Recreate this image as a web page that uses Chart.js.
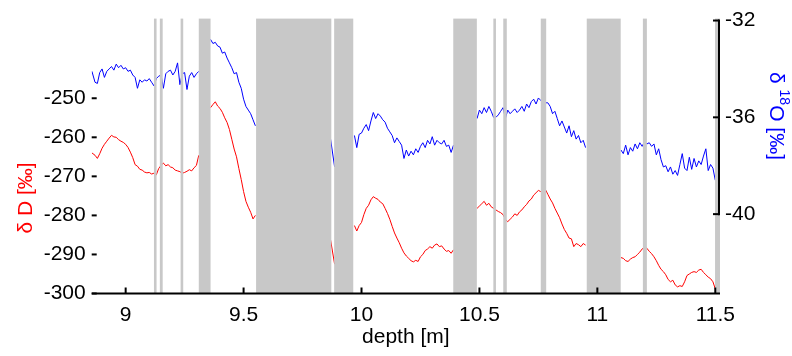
<!DOCTYPE html>
<html lang="en">
<head>
    <meta charset="UTF-8">
    <title>Isotope profile</title>
    <style>
        body {
            margin: 0;
            background: #fff;
        }
        canvas {
            display: block;
        }
    </style>
</head>
<body>
    <canvas id="isoChart" width="792" height="356"></canvas>

    <script src="https://cdn.jsdelivr.net/npm/chart.js"></script>
    <script>
        // depth in m, null rows break the line at core gaps
        const depth = [
            8.857, 8.87, 8.88, 8.89, 8.90, 8.91, 8.92, 8.93, 8.94, 8.95, 8.96, 8.97, 8.98, 8.99,
            9.00, 9.01, 9.02, 9.03, 9.04, 9.05, 9.06, 9.07, 9.08, 9.09, 9.10, 9.11, 9.12, 9.13,
            9.14, 9.15, 9.16, 9.17, 9.18, 9.19, 9.20, 9.21, 9.22, 9.23, 9.24, 9.25, 9.26, 9.27,
            9.28, 9.29, 9.30, 9.31,
            9.335,
            9.36, 9.37, 9.38, 9.39, 9.40, 9.41, 9.42, 9.43, 9.44, 9.45, 9.46, 9.47, 9.48, 9.49,
            9.50, 9.51, 9.52, 9.53, 9.54, 9.55,
            9.70,
            9.868, 9.886,
            9.93,
            9.97, 9.98, 9.99, 10.00, 10.01, 10.02, 10.03, 10.04, 10.05, 10.06, 10.07, 10.08,
            10.09, 10.10, 10.11, 10.12, 10.13, 10.14, 10.15, 10.16, 10.17, 10.18, 10.19, 10.20,
            10.21, 10.22, 10.23, 10.24, 10.25, 10.26, 10.27, 10.28, 10.29, 10.30, 10.31, 10.32,
            10.33, 10.34, 10.35, 10.36, 10.37, 10.38, 10.39,
            10.44,
            10.49, 10.50, 10.51, 10.52, 10.53, 10.54, 10.55, 10.56, 10.57, 10.58, 10.59, 10.60,
            10.61, 10.62, 10.63, 10.64, 10.65, 10.66, 10.67, 10.68, 10.69, 10.70, 10.71, 10.72,
            10.73, 10.74, 10.75, 10.76, 10.77, 10.78, 10.79, 10.80, 10.81, 10.82, 10.83, 10.84,
            10.85, 10.86, 10.87, 10.88, 10.89, 10.90, 10.91, 10.92, 10.93, 10.94, 10.95,
            11.03,
            11.10, 11.11, 11.12, 11.13, 11.14, 11.15, 11.16, 11.17, 11.18, 11.19, 11.20, 11.21,
            11.22, 11.23, 11.24, 11.25, 11.26, 11.27, 11.28, 11.29, 11.30, 11.31, 11.32, 11.33,
            11.34, 11.35, 11.36, 11.37, 11.38, 11.39, 11.40, 11.41, 11.42, 11.43, 11.44, 11.45,
            11.46, 11.47, 11.48, 11.49, 11.50
        ];

        const dD = [
            -264.0, -264.6, -265.4, -264.2, -262.8, -261.8, -261.0, -260.2, -259.5, -259.9, -260.0, -260.6, -261.0, -261.3,
            -261.8, -262.6, -263.8, -265.2, -267.0, -267.4, -268.2, -268.4, -268.9, -269.1, -269.0, -269.4, -269.2, -269.6,
            -268.0, -267.2, -266.6, -267.3, -267.0, -267.6, -267.8, -268.4, -268.6, -268.8, -269.2, -269.0, -268.7, -268.3,
            -268.6, -267.8, -267.2, -264.6,
            null,
            -252.4, -251.6, -250.9, -252.0, -252.6, -253.6, -255.0, -256.2, -258.0, -260.5, -263.0, -265.0, -268.0, -270.8,
            -273.9, -276.4, -277.9, -279.2, -280.9, -280.0,
            null,
            -286.0, -292.5,
            null,
            -282.6, -284.0, -282.6, -281.8, -279.8, -278.2, -277.4, -276.0, -275.2, -275.6, -275.9, -276.6,
            -277.0, -278.2, -279.5, -281.0, -282.8, -284.5, -285.8, -287.0, -288.4, -289.6, -290.4, -291.0,
            -291.6, -291.9, -291.5, -291.8, -290.6, -290.0, -289.0, -288.6, -288.0, -288.4, -287.6, -287.3,
            -288.0, -287.8, -288.6, -289.2, -289.0, -289.7, -288.8,
            null,
            -278.2, -277.6, -277.0, -276.4, -277.4, -276.9, -277.8, -278.2, -278.6, -279.0, -279.3, -279.8,
            -281.0, -281.6, -281.0, -280.4, -279.6, -280.0, -279.1, -278.6, -277.8, -277.2, -276.3, -275.8,
            -274.8, -274.2, -273.6, -273.9, -273.8, -273.4, -274.6, -275.8, -276.8, -278.2, -279.4, -280.6,
            -282.2, -283.6, -284.6, -285.8, -286.0, -288.0, -287.2, -287.5, -288.0, -287.2, -287.6,
            null,
            -290.8, -291.0, -291.6, -291.8, -291.2, -290.8, -290.6, -290.0, -289.4, -288.6, -288.0, -288.4,
            -289.2, -289.8, -290.6, -291.6, -292.8, -293.8, -294.4, -295.2, -296.4, -297.0, -296.6, -297.8,
            -298.3, -298.0, -298.2, -297.0, -295.4, -295.0, -294.6, -294.4, -294.6, -294.0, -293.8, -294.6,
            -295.2, -295.8, -296.2, -297.0, -298.8
        ];

        const d18O = [
            -34.10, -34.55, -34.60, -34.15, -34.00, -34.35, -34.10, -34.00, -33.90, -34.05, -33.80, -33.95, -33.85, -34.00,
            -33.95, -34.10, -34.05, -34.25, -34.35, -34.80, -34.45, -34.55, -34.45, -34.50, -34.40, -34.55, -34.70, -34.40,
            -34.30, -34.25, -34.80, -34.20, -34.10, -34.05, -34.25, -34.10, -33.75, -34.65, -34.20, -34.15, -34.85, -34.30,
            -34.15, -34.35, -34.20, -34.10,
            null,
            -32.78, -32.95, -32.90, -33.05, -33.10, -33.35, -33.30, -33.55, -33.75, -33.95, -34.20, -34.15, -34.55, -34.80,
            -35.25, -35.55, -35.70, -35.85, -36.10, -36.35,
            null,
            -36.85, -38.05,
            null,
            -36.75, -37.25, -36.70, -36.65, -36.45, -36.30, -36.55, -36.15, -35.80, -36.05, -35.85, -35.95,
            -36.10, -36.20, -36.45, -36.60, -36.75, -37.05, -36.85, -37.00, -37.15, -37.70, -37.35, -37.60,
            -37.40, -37.55, -37.30, -37.45, -37.20, -37.05, -37.25, -36.95, -37.10, -36.80, -37.15, -36.95,
            -37.05, -37.10, -36.95, -37.20, -37.15, -37.45, -37.15,
            null,
            -36.05, -35.70, -35.85, -35.60, -35.80, -35.55, -35.75, -36.00, -36.00, -35.90, -35.75, -35.60,
            -36.05, -35.70, -35.85, -35.75, -35.65, -35.80, -35.70, -35.55, -35.75, -35.45, -35.60, -35.35,
            -35.25, -35.45, -35.20, -35.30, -35.45, -35.40, -35.40, -35.55, -35.85, -35.75, -36.05, -36.35,
            -36.15, -36.40, -36.65, -36.35, -36.80, -36.55, -36.90, -36.75, -37.05, -36.95, -37.25,
            null,
            -37.35, -37.50, -37.15, -37.55, -37.25, -37.40, -37.10, -37.30, -37.05, -37.20, -37.00, -37.10,
            -37.05, -37.20, -37.10, -37.55, -37.30, -37.75, -38.05, -38.00, -38.25, -38.05, -38.35, -38.20,
            -38.40, -37.95, -37.50, -38.10, -38.20, -37.65, -38.15, -37.70, -38.05, -37.80, -37.95, -37.60,
            -37.30, -38.20, -37.95, -38.10, -38.60
        ];

        // grey bars: missing / disturbed sections
        const bandStart = [9.120, 9.145, 9.233, 9.310, 9.553, 9.884, 10.389, 10.559, 10.601, 10.760, 10.955, 11.193, 11.499];
        const bandEnd   = [9.131, 9.157, 9.244, 9.360, 9.872, 9.965, 10.489, 10.570, 10.616, 10.783, 11.099, 11.210, 11.520];

        const xTicks = [9, 9.5, 10, 10.5, 11, 11.5];
        const dDTicks = [-300, -290, -280, -270, -260, -250];
        const d18OTicks = [-40, -36, -32];

        const FONT = 'Liberation Sans, Arial, Helvetica, sans-serif';
        Chart.defaults.font.family = FONT;
        Chart.defaults.font.size = 21;
        Chart.defaults.color = '#000';

        function seg(ctx, x1, y1, x2, y2) {
            ctx.beginPath();
            ctx.moveTo(x1, y1);
            ctx.lineTo(x2, y2);
            ctx.stroke();
        }

        const overlay = {
            id: 'overlay',
            afterDatasetsDraw(chart) {
                const { ctx, chartArea: a, scales } = chart;
                const x = scales.x, y = scales.y, y2 = scales.y2;
                ctx.save();
                ctx.fillStyle = '#c8c8c8';
                bandStart.forEach((s, i) => {
                    const l = x.getPixelForValue(s);
                    const r = x.getPixelForValue(bandEnd[i]);
                    ctx.fillRect(l, a.top, r - l, a.bottom - a.top);
                });

                ctx.strokeStyle = '#000';
                ctx.lineWidth = 2;
                seg(ctx, a.left, a.bottom, a.right, a.bottom);
                xTicks.forEach(v => {
                    const px = x.getPixelForValue(v);
                    seg(ctx, px, a.bottom, px, a.bottom - 6);
                });
                dDTicks.forEach(v => {
                    const py = y.getPixelForValue(v);
                    seg(ctx, a.left, py, a.left + 5, py);
                });
                const rx = a.right - 1;
                seg(ctx, rx, y2.getPixelForValue(-32) - 1, rx, y2.getPixelForValue(-40) + 1);
                d18OTicks.forEach(v => {
                    const py = y2.getPixelForValue(v);
                    seg(ctx, rx - 6, py, rx, py);
                });
                ctx.restore();
            },
            afterDraw(chart) {
                const { ctx, chartArea: a } = chart;
                ctx.save();
                ctx.textBaseline = 'middle';
                ctx.textAlign = 'center';
                ctx.font = '21px ' + FONT;

                ctx.fillStyle = '#000';
                ctx.fillText('depth [m]', (a.left + a.right) / 2, 337);

                // left title
                ctx.save();
                ctx.translate(26, 198);
                ctx.rotate(-Math.PI / 2);
                ctx.fillStyle = '#ff0000';
                ctx.fillText('\u03b4 D [\u2030]', 0, 0);
                ctx.restore();

                // right title, reads top to bottom
                ctx.save();
                ctx.translate(776, 116);
                ctx.rotate(Math.PI / 2);
                ctx.fillStyle = '#0000ff';
                ctx.textAlign = 'left';
                const parts = [
                    ['\u03b4 ', '21px ', 0],
                    ['18', '14px ', -8],
                    ['O [\u2030]', '21px ', 0]
                ];
                let total = 0;
                parts.forEach(p => { ctx.font = p[1] + FONT; total += ctx.measureText(p[0]).width; });
                let cx = -total / 2;
                parts.forEach(p => {
                    ctx.font = p[1] + FONT;
                    ctx.fillText(p[0], cx, p[2]);
                    cx += ctx.measureText(p[0]).width;
                });
                ctx.restore();
                ctx.restore();
            }
        };

        const ctx = document.getElementById('isoChart').getContext('2d');
        new Chart(ctx, {
            type: 'line',
            data: {
                datasets: [
                    {
                        label: 'dD',
                        data: depth.map((d, i) => ({ x: d, y: dD[i] })),
                        yAxisID: 'y',
                        borderColor: '#ff0000',
                        borderWidth: 1,
                        pointRadius: 0,
                        tension: 0,
                        spanGaps: false
                    },
                    {
                        label: 'd18O',
                        data: depth.map((d, i) => ({ x: d, y: d18O[i] })),
                        yAxisID: 'y2',
                        borderColor: '#0000ff',
                        borderWidth: 1,
                        pointRadius: 0,
                        tension: 0,
                        spanGaps: false
                    }
                ]
            },
            options: {
                responsive: false,
                animation: false,
                layout: { padding: { top: 16, left: 0, right: 0, bottom: 0 } },
                plugins: {
                    legend: { display: false },
                    tooltip: { enabled: false }
                },
                scales: {
                    x: {
                        type: 'linear',
                        min: 8.856,
                        max: 11.52,
                        grid: { display: false, drawTicks: false },
                        border: { display: false },
                        afterBuildTicks: s => { s.ticks = xTicks.map(v => ({ value: v })); },
                        afterFit: s => { s.height = 62.5; },
                        ticks: { padding: 9, maxRotation: 0, callback: v => String(v) }
                    },
                    y: {
                        position: 'left',
                        min: -300,
                        max: -229.6,
                        grid: { display: false, drawTicks: false },
                        border: { display: false },
                        afterBuildTicks: s => { s.ticks = dDTicks.map(v => ({ value: v })); },
                        afterFit: s => { s.width = 91.7; },
                        ticks: { padding: 6, callback: v => String(v) }
                    },
                    y2: {
                        position: 'right',
                        min: -43.28,
                        max: -31.92,
                        grid: { display: false, drawTicks: false },
                        border: { display: false },
                        afterBuildTicks: s => { s.ticks = d18OTicks.map(v => ({ value: v })); },
                        afterFit: s => { s.width = 72; },
                        ticks: { padding: 5, callback: v => String(v) }
                    }
                }
            },
            plugins: [overlay]
        });
    </script>
</body>
</html>
